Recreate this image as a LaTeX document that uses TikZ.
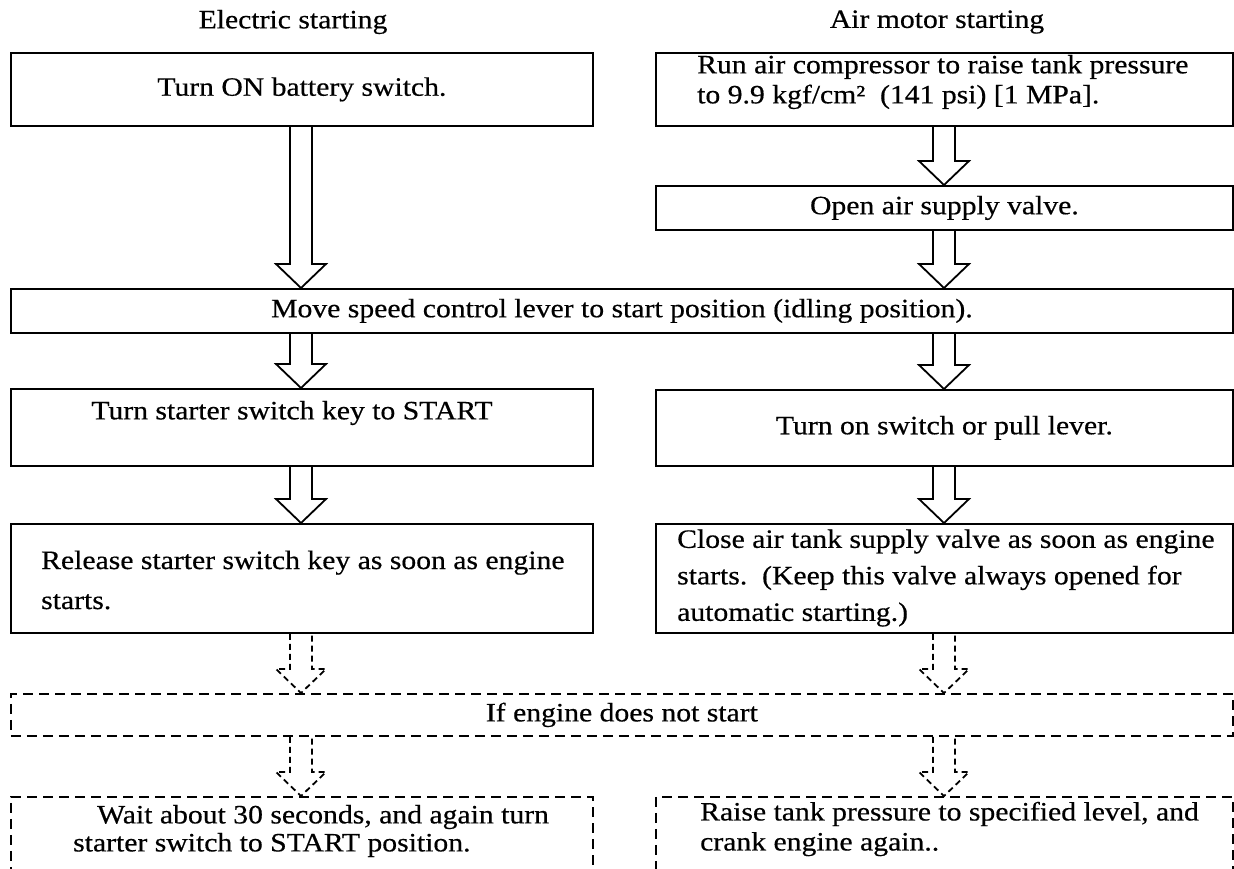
\documentclass[tikz,border=0pt]{standalone}
\usepackage{fontspec}
\setmainfont[FakeStretch=1.12,FakeBold=0.5]{Liberation Serif}
\usetikzlibrary{calc}

% hollow block arrow between two boxes, centred on the given x
\newcommand{\flowarrow}[4][arr]{%
  \draw[#1] ($(#4,0 |- #2.south)+(-11,0)$)
    -- ($(#4,0 |- #3.north)+(-11,-24)$) -- ++(-14,0)
    -- (#4,0 |- #3.north)
    -- ($(#4,0 |- #3.north)+(25,-24)$) -- ++(-14,0)
    -- ($(#4,0 |- #2.south)+(11,0)$);}

\begin{document}
\begin{tikzpicture}[x=1pt,y=-1pt,
  font=\fontsize{26.5}{29}\selectfont,
  frame/.style={draw, line width=1.8pt, inner sep=0pt, anchor=north west},
  dframe/.style={frame, dash pattern=on 10pt off 6pt},
  txt/.style={inner sep=0pt, align=left},
  arr/.style={line width=1.8pt, line join=miter},
  darr/.style={arr, dash pattern=on 6pt off 4pt}]

\useasboundingbox (0,0) rectangle (1234,868);
\clip (0,0) rectangle (1234,868);

% column headings
\node[txt] (t1) at (293,22) {Electric starting};
\node[txt] (t2) at (937,22) {Air motor starting};

% electric starting column
\node[frame, minimum width=582, minimum height=73] (L1) at (10,52) {Turn ON battery switch.};

% air motor column
\node[frame, minimum width=577, minimum height=73] (R1) at (655,52) {};
\node[txt, anchor=west, font=\fontsize{26.5}{30}\selectfont] (R1t) at (697,82)
  {Run air compressor to raise tank pressure\\to 9.9 kgf/cm²\ \ (141 psi) [1 MPa].};
\node[frame, minimum width=577, minimum height=44] (R2) at (655,185) {Open air supply valve.};

% common step
\node[frame, minimum width=1222, minimum height=44] (SP) at (10,288)
  {Move speed control lever to start position (idling position).};

\node[frame, minimum width=582, minimum height=77] (L3) at (10,388) {};
\node[txt] (L3t) at (292,413) {Turn starter switch key to START};
\node[frame, minimum width=577, minimum height=76] (R3) at (655,389) {Turn on switch or pull lever.};

\node[frame, minimum width=582, minimum height=109] (L4) at (10,523) {};
\node[txt, anchor=west, font=\fontsize{26.5}{40}\selectfont] (L4t) at (41,580)
  {Release starter switch key as soon as engine\\starts.};
\node[frame, minimum width=577, minimum height=109] (R4) at (655,523) {};
\node[txt, anchor=west, font=\fontsize{26.5}{36.5}\selectfont] (R4t) at (677,578)
  {Close air tank supply valve as soon as engine\\starts.\ \ (Keep this valve always opened for\\automatic starting.)};

% retry steps
\node[dframe, minimum width=1222, minimum height=42] (IF) at (10,693) {If engine does not start};
\node[dframe, minimum width=582, minimum height=110] (L6) at (10,796) {};
\node[txt, anchor=west, font=\fontsize{26.5}{28}\selectfont] (L6t) at (73,831)
  {\hspace*{24pt}Wait about 30 seconds, and again turn\\starter switch to START position.};
\node[dframe, minimum width=577, minimum height=110] (R6) at (655,796) {};
\node[txt, anchor=west, font=\fontsize{26.5}{30}\selectfont] (R6t) at (700,829)
  {Raise tank pressure to specified level, and\\crank engine again..};

% arrows
\flowarrow{L1}{SP}{301}
\flowarrow{R1}{R2}{944}
\flowarrow{R2}{SP}{944}
\flowarrow{SP}{L3}{301}
\flowarrow{SP}{R3}{944}
\flowarrow{L3}{L4}{301}
\flowarrow{R3}{R4}{944}
\flowarrow[darr]{L4}{IF}{301}
\flowarrow[darr]{R4}{IF}{944}
\flowarrow[darr]{IF}{L6}{301}
\flowarrow[darr]{IF}{R6}{944}
\end{tikzpicture}
\end{document}
